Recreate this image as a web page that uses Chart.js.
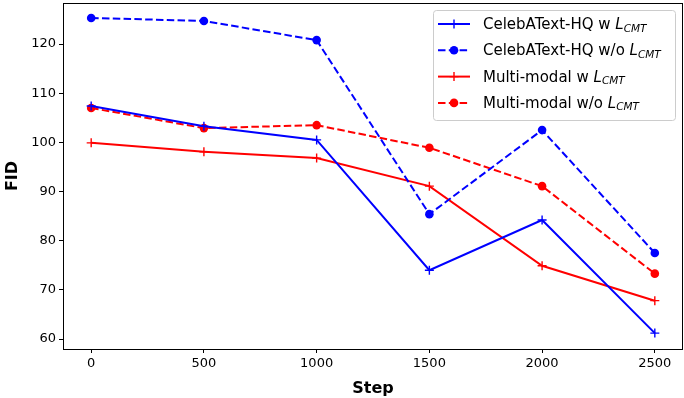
<!DOCTYPE html>
<html>
<head>
<meta charset="utf-8">
<script src="https://cdn.jsdelivr.net/npm/chart.js@4/dist/chart.umd.min.js"></script>
<style>
  html, body { margin: 0; padding: 0; background: #fff; }
  #wrap { width: 684px; height: 398px; }
</style>
</head>
<body>
<div id="wrap"><canvas id="chart"></canvas></div>
<script>
const steps = [0, 500, 1000, 1500, 2000, 2500];
const xTicks = [0, 500, 1000, 1500, 2000, 2500];
const yTicks = [60, 70, 80, 90, 100, 110, 120];

const celebW = [107.4, 103.3, 100.5, 74.0, 84.2, 61.2];
const celebWo = [125.3, 124.7, 120.8, 85.4, 102.5, 77.5];
const multiW = [99.9, 98.1, 96.8, 91.1, 74.9, 67.8];
const multiWo = [107.0, 102.9, 103.5, 98.9, 91.1, 73.3];

const seriesNames = ["CelebAText-HQ w ", "CelebAText-HQ w/o ", "Multi-modal w ", "Multi-modal w/o "];

const FONT = "'DejaVu Sans', sans-serif";

function makeSet(label, values, color, dashed){
  return {
    label: label,
    data: steps.map((s, i) => ({x: s, y: values[i]})),
    borderColor: color,
    backgroundColor: color,
    borderWidth: 2,
    borderDash: dashed ? [7.5, 3.3] : [],
    pointStyle: dashed ? "circle" : "cross",
    pointRadius: dashed ? 4.3 : 4.5,
    pointBorderWidth: dashed ? 0 : 1.4,
    pointBorderColor: color,
    pointBackgroundColor: color,
    fill: false,
    tension: 0
  };
}

// full black frame round the plot, like matplotlib
const frame = {
  id: "frame",
  afterDatasetsDraw(chart){
    const a = chart.chartArea;
    const ctx = chart.ctx;
    ctx.save();
    ctx.strokeStyle = "#000";
    ctx.lineWidth = 1;
    ctx.strokeRect(Math.round(a.left) + 0.5, Math.round(a.top) + 0.5, Math.round(a.right - a.left) - 1, Math.round(a.bottom - a.top));
    ctx.restore();
  }
};

// legend with italic subscripted L_CMT drawn on the canvas
const mplLegend = {
  id: "mplLegend",
  afterDraw(chart){
    const ctx = chart.ctx;
    const x0 = 433.5, y0 = 10.5, w = 242, h = 110;
    ctx.save();
    ctx.fillStyle = "rgba(255,255,255,0.8)";
    ctx.strokeStyle = "#cccccc";
    ctx.lineWidth = 1;
    ctx.beginPath();
    ctx.roundRect(x0, y0, w, h, 3);
    ctx.fill();
    ctx.stroke();

    chart.data.datasets.forEach((ds, i) => {
      const y = 24 + i * 26.3;
      ctx.strokeStyle = ds.borderColor;
      ctx.lineWidth = 2;
      ctx.setLineDash(ds.borderDash);
      ctx.beginPath();
      ctx.moveTo(438, y);
      ctx.lineTo(470, y);
      ctx.stroke();
      ctx.setLineDash([]);
      if (ds.pointStyle === "circle") {
        ctx.fillStyle = ds.borderColor;
        ctx.beginPath();
        ctx.arc(454, y, 4.3, 0, Math.PI * 2);
        ctx.fill();
      } else {
        ctx.lineWidth = 1.4;
        ctx.beginPath();
        ctx.moveTo(449.5, y); ctx.lineTo(458.5, y);
        ctx.moveTo(454, y - 4.5); ctx.lineTo(454, y + 4.5);
        ctx.stroke();
      }
      ctx.fillStyle = "#000";
      ctx.textBaseline = "alphabetic";
      ctx.font = "15px " + FONT;
      let tx = 483;
      const base = y + 5;
      ctx.fillText(seriesNames[i], tx, base);
      tx += ctx.measureText(seriesNames[i]).width;
      ctx.font = "italic 15px " + FONT;
      ctx.fillText("L", tx, base);
      tx += ctx.measureText("L").width;
      ctx.font = "italic 10.5px " + FONT;
      ctx.fillText("CMT", tx, base + 2.5);
    });
    ctx.restore();
  }
};

new Chart(document.getElementById("chart"), {
  type: "line",
  data: {
    datasets: [
      makeSet("CelebAText-HQ w L_CMT", celebW, "#0000ff", false),
      makeSet("CelebAText-HQ w/o L_CMT", celebWo, "#0000ff", true),
      makeSet("Multi-modal w L_CMT", multiW, "#ff0000", false),
      makeSet("Multi-modal w/o L_CMT", multiWo, "#ff0000", true)
    ]
  },
  options: {
    responsive: true,
    maintainAspectRatio: false,
    animation: false,
    layout: { autoPadding: false, padding: { top: 3, right: 1, left: 0, bottom: 0 } },
    plugins: { legend: { display: false }, tooltip: { enabled: false } },
    scales: {
      x: {
        type: "linear",
        min: -125,
        max: 2625,
        afterBuildTicks: (scale) => { scale.ticks = xTicks.map(v => ({value: v})); },
        afterFit: (scale) => {
          scale.height = 49;
          scale.paddingLeft = 0;
          scale.paddingRight = 0;
        },
        grid: { drawOnChartArea: false, color: "#000", tickLength: 4, tickWidth: 1 },
        border: { display: false },
        ticks: { color: "#000", font: { family: FONT, size: 13 }, padding: 3, maxRotation: 0, callback: (v) => String(v) },
        title: { display: true, text: "Step", color: "#000", font: { family: FONT, size: 16, weight: "bold" }, padding: { top: 4, bottom: 0 } }
      },
      y: {
        min: 57.97,
        max: 128.35,
        afterBuildTicks: (scale) => { scale.ticks = yTicks.map(v => ({value: v})); },
        afterFit: (scale) => {
          scale.width = 63;
          scale.paddingTop = 0;
          scale.paddingBottom = 0;
        },
        grid: { drawOnChartArea: false, color: "#000", tickLength: 4, tickWidth: 1 },
        border: { display: false },
        ticks: { color: "#000", font: { family: FONT, size: 13 }, padding: 3, callback: (v) => String(v) },
        title: { display: true, text: "FID", color: "#000", font: { family: FONT, size: 16, weight: "bold" }, padding: { top: 3, bottom: 6 } }
      }
    }
  },
  plugins: [frame, mplLegend]
});
</script>
</body>
</html>
